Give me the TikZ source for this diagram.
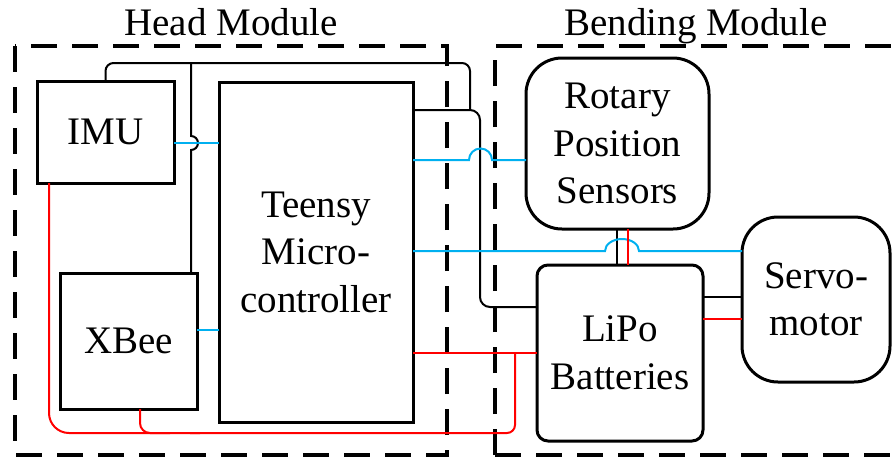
\documentclass[tikz,border=0pt]{standalone}
\usepackage{fontspec}
\setmainfont{Liberation Serif}
\newfontfamily\timesfont{Liberation Serif}
\definecolor{wireblue}{RGB}{0,176,240}
\definecolor{wirered}{RGB}{255,0,0}
\begin{document}
\begin{tikzpicture}[x=1pt,y=-1pt,
  every node/.style={font=\timesfont\fontsize{39}{47.5}\selectfont, align=center, inner sep=0pt, outer sep=0pt},
  blk/.style={draw, line width=3pt, minimum width=#1},
  modbox/.style={draw, line width=4pt, dash pattern=on 26pt off 15pt},
  bw/.style={draw, line width=2pt, black},
  uw/.style={draw, line width=2pt, wireblue},
  rw/.style={draw, line width=2pt, wirered}]
\useasboundingbox (0,0) rectangle (894,459);
% modules
\begin{scope}
\clip (0,0) rectangle (894,459);
\draw[modbox] (15,46) rectangle (447,455);
\draw[modbox] (495,455) -- (495,46) -- (910,46);
\draw[modbox] (495,455) -- (910,455);
\end{scope}
\node[anchor=base] (thead) at (231,35) {Head Module};
\node[anchor=base] (tbend) at (696,35) {Bending Module};
% boxes
\node[blk=137pt, minimum height=102pt] (imu) at (105.5,132) {IMU};
\node[blk=194pt, minimum height=340pt] (teensy) at (316,252) {Teensy\\Micro-\\controller};
\node[blk=137pt, minimum height=136pt] (xbee) at (128.5,341) {XBee};
\node[blk=183pt, minimum height=171pt, rounded corners=36pt] (rotary) at (617.5,143.5) {Rotary\\Position\\Sensors};
\node[blk=166pt, minimum height=176pt, rounded corners=11pt] (lipo) at (620,353) {LiPo\\Batteries};
\node[blk=148pt, minimum height=165pt, rounded corners=36pt] (servo) at (816,299.5) {Servo-\\motor};
\coordinate (jtop) at (470,110);
% black wires
\draw[bw, rounded corners=8pt] (imu.north) -- (imu.north |- 0,63) -- (470,63) -- (jtop);
\draw[bw, rounded corners=10pt] (teensy.east |- jtop) -- (480,110) -- (480,307) -- (lipo.west |- 0,307);
\draw[bw] (191,63) -- (191,136) arc[start angle=90, end angle=-90, radius=7pt] -- (xbee.north -| 191,0);
\draw[bw] (rotary.south -| 617,0) -- (lipo.north -| 617,0);
\draw[bw] (lipo.east |- 0,297) -- (servo.west |- 0,297);
% blue wires
\draw[uw] (imu.east |- 0,143) -- (teensy.west |- 0,143);
\draw[uw] (xbee.east |- 0,330) -- (teensy.west |- 0,330);
\draw[uw] (teensy.east |- 0,160) -- (469,160) arc[start angle=180, end angle=0, radius=11.5pt] -- (rotary.west |- 0,160);
\draw[uw] (teensy.east |- 0,251) -- (605,251) arc[start angle=180, end angle=0, x radius=17pt, y radius=12pt] -- (servo.west |- 0,251);
% red wires
\draw[rw] (rotary.south -| 628,0) -- (lipo.north -| 628,0);
\draw[rw] (lipo.east |- 0,319) -- (servo.west |- 0,319);
\draw[rw] (teensy.east |- 0,353) -- (lipo.west |- 0,353);
\draw[rw, rounded corners=20pt] (imu.south -| 49,0) -- (49,433) -- (200,433);
\draw[rw, rounded corners=8pt] (190,433) -- (515,433) -- (515,353);
\draw[rw, rounded corners=10pt] (xbee.south -| 140,0) -- (140,433) -- (170,433);
\end{tikzpicture}
\end{document}
